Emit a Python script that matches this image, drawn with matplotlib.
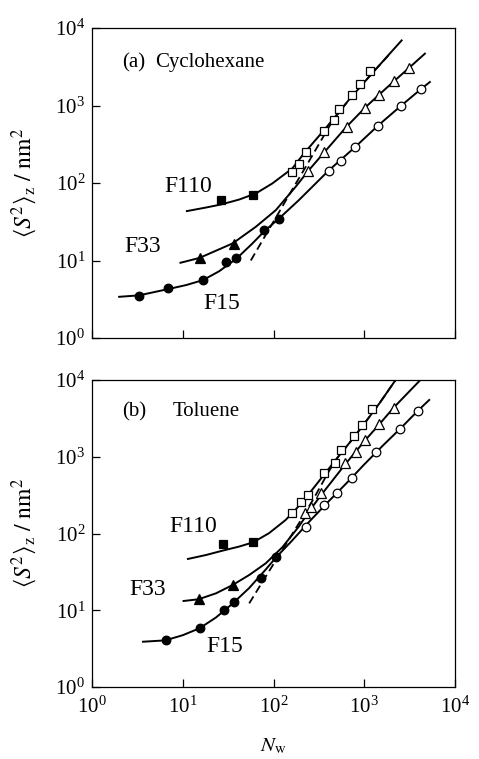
import matplotlib
matplotlib.use("Agg")
import matplotlib.pyplot as plt
from matplotlib.ticker import LogLocator, NullLocator

plt.rcParams['font.family'] = ['Liberation Serif', 'DejaVu Serif']
plt.rcParams['mathtext.fontset'] = 'stix'

# ---- (a) cyclohexane : measured points ----
a_f15_fill_n = [3.3, 6.9, 16.7, 30, 39, 79, 115]
a_f15_fill_s = [3.5, 4.37, 5.6, 9.5, 10.8, 24.6, 34.5]
a_f15_open_n = [405, 550, 793, 1427, 2566, 4210]
a_f15_open_s = [141, 194, 288, 547, 988, 1620]
a_f33_fill_n = [15.3, 36.8]
a_f33_fill_s = [10.7, 16.5]
a_f33_open_n = [238, 359, 638, 1020, 1445, 2127, 3100]
a_f33_open_s = [141, 248, 525, 923, 1382, 2072, 3014]
a_f110_fill_n = [26.5, 59.3]
a_f110_fill_s = [60.7, 69.5]
a_f110_open_n = [158, 190, 227, 357, 460, 530, 742, 892, 1158]
a_f110_open_s = [137, 178, 248, 467, 653, 888, 1362, 1878, 2787]

# ---- (a) theoretical curves ----
a_f15_curve_n = [1.99, 3.30, 6.86, 10.9, 16.7, 25.3, 39.2, 58.6, 80.2, 115, 190,
                 406, 796, 1432, 2582, 4276, 5284]
a_f15_curve_s = [3.40, 3.55, 4.27, 4.82, 5.58, 7.29, 10.6, 16.6, 24.2, 34.8, 60.0,
                 145, 292, 556, 1007, 1652, 2009]
a_f33_curve_n = [9.44, 15.3, 35.4, 63.8, 106, 175, 241, 366, 634, 1023, 1469, 2183,
                 3133, 4656]
a_f33_curve_s = [9.35, 10.8, 16.6, 27.2, 44.6, 89.1, 143, 252, 528, 940, 1393, 2113,
                 3076, 4667]
a_f110_curve_n = [11.1, 18.1, 26.4, 41.9, 63.8, 97.0, 161, 216, 373, 671, 1211, 2582]
a_f110_curve_s = [43.4, 48.3, 52.8, 61.2, 73.3, 98.6, 154, 240, 504, 1167, 2576, 6918]
a_dash_n = [56.2, 79.4, 112, 158, 224, 316, 447, 671, 1211, 1995]
a_dash_s = [10.0, 20.0, 39.8, 79.4, 158, 316, 631, 1167, 2576, 4898]

# ---- (b) toluene : measured points ----
b_f15_fill_n = [6.5, 15.4, 28.4, 37, 72.6, 106]
b_f15_fill_s = [4.05, 5.86, 10.15, 13.0, 26.2, 48.8]
b_f15_open_n = [229, 363, 499, 740, 1364, 2449, 3882]
b_f15_open_s = [123, 236, 341, 533, 1161, 2265, 3955]
b_f33_fill_n = [15.0, 35.5]
b_f33_fill_s = [14.2, 21.6]
b_f33_open_n = [225, 260, 334, 615, 804, 1016, 1458, 2109]
b_f33_open_s = [184, 224, 334, 818, 1161, 1645, 2654, 4376]
b_f110_fill_n = [27.6, 59.8]
b_f110_fill_s = [73.5, 76.9]
b_f110_open_n = [161, 202, 241, 363, 471, 552, 778, 935, 1222]
b_f110_open_s = [184, 260, 318, 620, 836, 1222, 1854, 2576, 4248]

# ---- (b) theoretical curves ----
b_f15_curve_n = [3.65, 6.41, 10.0, 15.3, 23.2, 35.4, 54.0, 82.0, 106, 158, 251, 398,
                 631, 1000, 1585, 2512, 3981, 5200]
b_f15_curve_s = [3.89, 4.05, 4.73, 5.82, 8.04, 12.2, 19.5, 33.9, 48.4, 79.4, 145, 257,
                 447, 794, 1380, 2344, 4074, 5495]
b_f33_curve_n = [10.2, 14.9, 23.2, 35.4, 54.0, 82.0, 125, 190, 251, 334, 615, 1016,
                 1459, 2109, 4150]
b_f33_curve_s = [13.2, 13.9, 16.6, 21.3, 28.8, 40.8, 66.1, 123, 200, 316, 794, 1622,
                 2630, 4365, 10000]
b_f110_curve_n = [11.4, 18.1, 27.5, 41.9, 59.6, 89.3, 136, 178, 251, 363, 501, 708,
                  1000, 1479, 2213]
b_f110_curve_s = [46.6, 52.5, 59.8, 67.6, 76.7, 101, 150, 209, 339, 589, 955, 1585,
                  2692, 5012, 10000]
b_dash_n = [54.0, 82.0, 125, 190, 282, 398, 501, 708, 1000, 1479, 2213]
b_dash_s = [12.3, 27.4, 61.0, 135, 295, 617, 955, 1585, 2692, 5012, 10000]

W, H = 479, 759
fig = plt.figure(figsize=(W / 100, H / 100), dpi=100)
ax_a = fig.add_axes([92 / W, 1 - 338 / H, 363 / W, 310 / H])
ax_b = fig.add_axes([92 / W, 1 - 687 / H, 363 / W, 307 / H])


def draw_panel(ax, curves, dash, markers):
    for n, s in curves:
        ax.plot(n, s, color='black', lw=1.4, zorder=2)
    ax.plot(dash[0], dash[1], color='black', lw=1.3, ls=(0, (4.5, 2.5)), zorder=1.5)
    for n, s, m, ms, face in markers:
        ax.plot(n, s, ls='none', marker=m, ms=ms, mfc=face, mec='black',
                mew=0.9, zorder=3)


def setup_axes(ax, xlabels):
    ax.set_xscale('log')
    ax.set_yscale('log')
    ax.set_xlim(1, 1e4)
    ax.set_ylim(1, 1e4)
    for a in (ax.xaxis, ax.yaxis):
        a.set_major_locator(LogLocator(base=10, numticks=10))
        a.set_minor_locator(NullLocator())
    ax.tick_params(direction='in', length=6, width=0.9, top=False, right=False,
                   labelsize=15)
    ax.tick_params(axis='y', pad=5)
    ax.tick_params(axis='x', pad=7, labelbottom=xlabels)
    for sp in ax.spines.values():
        sp.set_linewidth(0.9)
    ax.set_ylabel(r'$\langle S^{2}\rangle_{\mathrm{z}}\ /\ \mathrm{nm}^{2}$', fontsize=17)
    ax.yaxis.set_label_coords(-0.145, 0.5)


sq, ci, tr = 's', 'o', '^'

draw_panel(ax_a,
           [(a_f15_curve_n, a_f15_curve_s), (a_f33_curve_n, a_f33_curve_s),
            (a_f110_curve_n, a_f110_curve_s)],
           (a_dash_n, a_dash_s),
           [(a_f15_fill_n, a_f15_fill_s, ci, 6.2, 'black'),
            (a_f15_open_n, a_f15_open_s, ci, 6.2, 'white'),
            (a_f33_fill_n, a_f33_fill_s, tr, 6.8, 'black'),
            (a_f33_open_n, a_f33_open_s, tr, 6.8, 'white'),
            (a_f110_fill_n, a_f110_fill_s, sq, 5.8, 'black'),
            (a_f110_open_n, a_f110_open_s, sq, 5.8, 'white')])

draw_panel(ax_b,
           [(b_f15_curve_n, b_f15_curve_s), (b_f33_curve_n, b_f33_curve_s),
            (b_f110_curve_n, b_f110_curve_s)],
           (b_dash_n, b_dash_s),
           [(b_f15_fill_n, b_f15_fill_s, ci, 6.2, 'black'),
            (b_f15_open_n, b_f15_open_s, ci, 6.2, 'white'),
            (b_f33_fill_n, b_f33_fill_s, tr, 6.8, 'black'),
            (b_f33_open_n, b_f33_open_s, tr, 6.8, 'white'),
            (b_f110_fill_n, b_f110_fill_s, sq, 5.8, 'black'),
            (b_f110_open_n, b_f110_open_s, sq, 5.8, 'white')])

setup_axes(ax_a, False)
setup_axes(ax_b, True)

ax_b.set_xlabel(r'$N_{\mathrm{w}}$', fontsize=15)
ax_b.xaxis.set_label_coords(0.5, -0.16)

# panel titles
ax_a.text(0.083, 0.889, '(a)', transform=ax_a.transAxes, fontsize=15, va='center')
ax_a.text(0.174, 0.889, 'Cyclohexane', transform=ax_a.transAxes, fontsize=15, va='center')
ax_b.text(0.083, 0.896, '(b)', transform=ax_b.transAxes, fontsize=15, va='center')
ax_b.text(0.223, 0.896, 'Toluene', transform=ax_b.transAxes, fontsize=15, va='center')

# sample labels
for ax, pos in ((ax_a, [(11.4, 91, 'F110'), (3.58, 15.3, 'F33'), (26.6, 2.78, 'F15')]),
                (ax_b, [(13.1, 125, 'F110'), (4.06, 18.4, 'F33'), (29.0, 3.42, 'F15')])):
    for x, y, t in pos:
        ax.text(x, y, t, fontsize=17, ha='center', va='center')

fig.savefig('out.png', dpi=100)
